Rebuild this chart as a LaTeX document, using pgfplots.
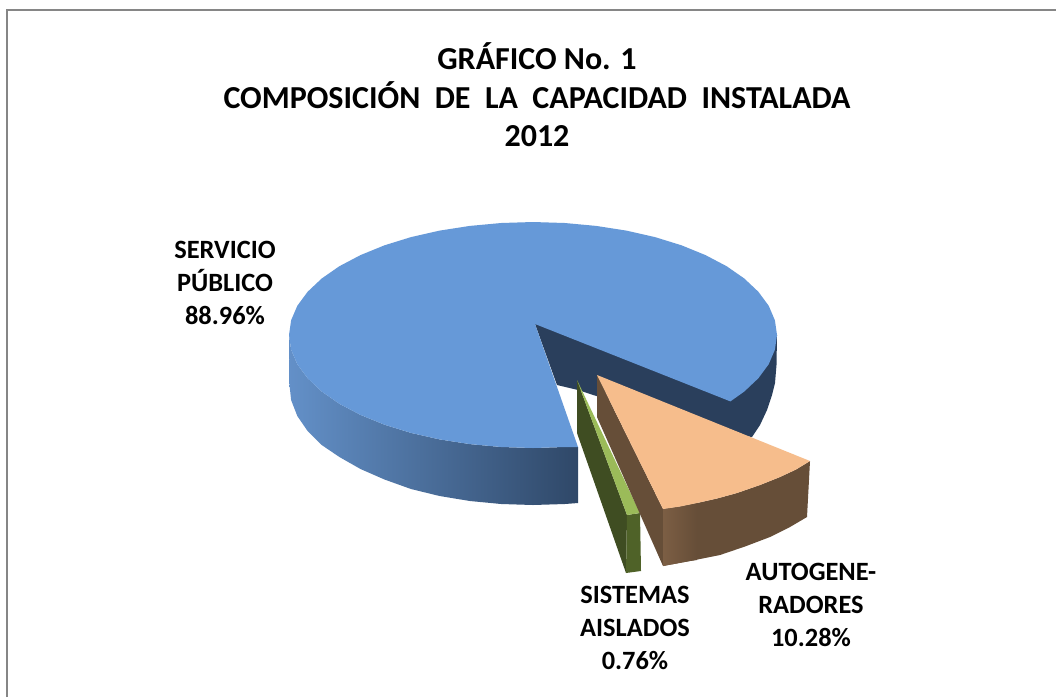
\documentclass[border=0pt]{standalone}
\usepackage{fontspec}
\setmainfont{Carlito}
\usepackage{pgfplots}
\pgfplotsset{compat=1.18}
\definecolor{bluetop}{HTML}{6699D8}
\definecolor{bluedark}{HTML}{2A3F5C}
\definecolor{wallL}{HTML}{6390C8}
\definecolor{wallR}{HTML}{2F4868}
\definecolor{peach}{HTML}{F6BD8C}
\definecolor{brownA}{HTML}{664E38}
\definecolor{brownB}{HTML}{7C5E44}
\definecolor{greenT}{HTML}{9BBB59}
\definecolor{greenD}{HTML}{3F4D22}
\definecolor{greenF}{HTML}{4F6228}
\definecolor{frameg}{HTML}{868686}
\begin{document}
\begin{tikzpicture}[lab/.style={font=\bfseries\fontsize{26.4}{33.2}\selectfont,align=center,text=black,inner sep=0pt}]
\begin{axis}[scale only axis,width=1056pt,height=697pt,xmin=0,xmax=1056,ymin=0,ymax=697,y dir=reverse,axis lines=none,clip=true]
% page
\addplot[draw=none,fill=white] coordinates {(0,0) (1056,0) (1056,697) (0,697)} --cycle;
% frame
\addplot[draw=frameg,line width=2pt] coordinates {(7,697) (7,10) (1056,10)};
% dark inner and outer right wall
\addplot[draw=none,fill=bluedark] coordinates {(535,324) (557,385) (578,390) (700,430) (752,437) (760,425) (767,410) (772,395) (775,383) (776.5,365) (777,335) (760,330)} --cycle;
% blue front wall
\addplot[draw=none,left color=wallL,right color=wallR] coordinates {(289,335) (289.5,385) (291.1,400) (297.3,416) (307.6,431) (321.7,445) (339.4,457) (360.5,469) (384.5,479.5) (411,489) (439.6,496) (469.9,501) (501.2,504) (533,505) (564.8,504) (578,503) (578,447) (564.8,447) (533,448) (501.2,447) (469.9,444.1) (439.6,439.4) (411,432.9) (384.5,424.7) (360.5,414.9) (339.4,403.8) (321.7,391.5) (307.6,378.2) (297.3,364.2) (291.1,349.7)} --cycle;
% blue top
\addplot[draw=none,fill=bluetop] coordinates {(535,324) (578,447) (564.8,447) (533,448) (501.2,447) (469.9,444.1) (439.6,439.4) (411,432.9) (384.5,424.7) (360.5,414.9) (339.4,403.8) (321.7,391.5) (307.6,378.2) (297.3,364.2) (291.1,349.7) (289,335) (291.1,320.3) (297.3,305.8) (307.6,291.8) (321.7,278.5) (339.4,266.2) (360.5,255.1) (384.5,245.3) (411,237.1) (439.6,230.6) (469.9,225.9) (501.2,223) (533,222) (564.8,223) (596.1,225.9) (626.4,230.6) (655,237.1) (681.5,245.3) (705.5,255.1) (726.6,266.2) (744.3,278.5) (758.4,291.8) (768.7,305.8) (774.9,320.3) (777,335) (774.9,349.7) (768.7,364.2) (758.4,378.2) (744.3,391.5) (730.4,401.4)} --cycle;
% isolated systems
\addplot[draw=none,fill=greenD] coordinates {(577,380) (577,433) (626,573) (627,515)} --cycle;
\addplot[draw=none,fill=greenF] coordinates {(627,515) (640,513) (641,571) (626,573)} --cycle;
\addplot[draw=none,fill=greenT] coordinates {(577,380) (640,513) (627,515)} --cycle;
% autogeneradores
\addplot[draw=none,fill=brownA] coordinates {(597,375) (597,417) (663,566) (663,509)} --cycle;
\addplot[draw=none,fill=brownA] coordinates {(663,509) (680,506.5) (697,503) (717,498.5) (737,493) (760,485) (780,477) (796,469.5) (810,461) (807,517) (790,527) (770,537) (745,546.5) (720,555) (690,561) (663,566)} --cycle;
\addplot[draw=none,left color=brownB,right color=brownA] coordinates {(663,509) (680,506.5) (697,503) (697,560) (690,561) (663,566)} --cycle;
\addplot[draw=none,fill=peach] coordinates {(597,375) (810,461) (796,469.5) (780,477) (760,485) (737,493) (717,498.5) (697,503) (680,506.5) (663,509)} --cycle;
% texts
\node[lab,font=\bfseries\fontsize{32}{38.5}\selectfont] at (axis cs:537,95) {GRÁFICO No. 1\\COMPOSICIÓN\ \ DE\ \ LA\ \ CAPACIDAD\ \ INSTALADA\\2012};
\node[lab] at (axis cs:225,283) {SERVICIO\\PÚBLICO\\88.96\%};
\node[lab] at (axis cs:811,605) {AUTOGENE-\\RADORES\\10.28\%};
\node[lab] at (axis cs:635,628) {SISTEMAS\\AISLADOS\\0.76\%};
\end{axis}
\end{tikzpicture}
\end{document}
